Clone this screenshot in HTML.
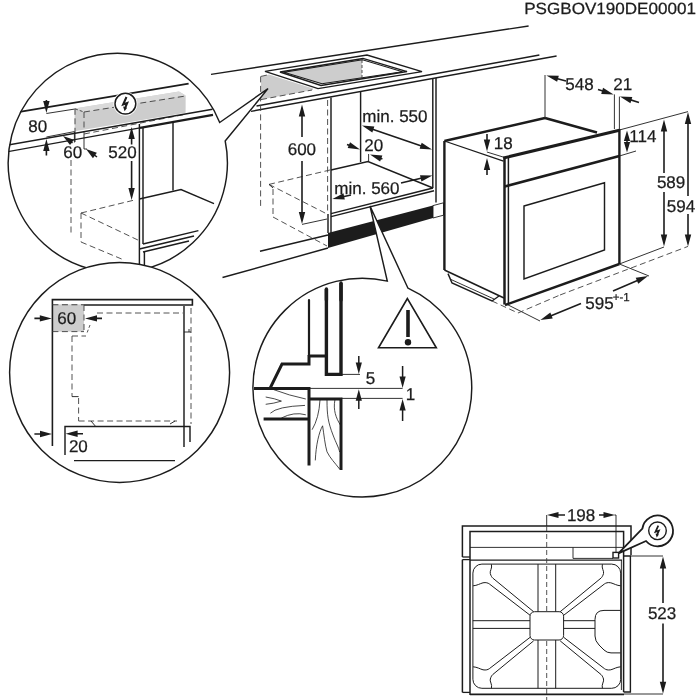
<!DOCTYPE html>
<html><head><meta charset="utf-8"><title>PSGBOV190DE00001</title>
<style>
html,body{margin:0;padding:0;background:#fff;}
body{width:700px;height:700px;overflow:hidden;}
svg{display:block;will-change:transform;}
text{font-family:"Liberation Sans",Arial,Helvetica,sans-serif;fill:#1c1c1c;stroke:#1c1c1c;stroke-width:0.25px;text-rendering:geometricPrecision;}
</style></head><body>
<svg width="700" height="700" viewBox="0 0 700 700">
<rect width="700" height="700" fill="#fff"/>
<defs>
<clipPath id="cA"><circle cx="117.6" cy="162" r="109.6"/></clipPath>
<clipPath id="cB"><circle cx="119.6" cy="372.4" r="110"/></clipPath>
<clipPath id="cC"><circle cx="361.8" cy="387.5" r="109.4"/></clipPath>
</defs>
<text x="524.2" y="14" font-size="16.2" text-anchor="start" textLength="171.8" lengthAdjust="spacingAndGlyphs">PSGBOV190DE00001</text>
<g id="main">
<line x1="211" y1="74.4" x2="528.6" y2="26" stroke="#1c1c1c" stroke-width="1.45" stroke-linecap="butt"/>
<line x1="256.5" y1="106.05" x2="539.4" y2="55" stroke="#1c1c1c" stroke-width="1.45" stroke-linecap="butt"/>
<line x1="251" y1="111.36" x2="556.6" y2="56" stroke="#1c1c1c" stroke-width="1.45" stroke-linecap="butt"/>
<polygon points="261,76.8 269,74.6 313,88.6 313,90 261,99.4" fill="#cdcdcd" stroke="none" stroke-width="0" stroke-linejoin="miter"/>
<line x1="261" y1="76.4" x2="269" y2="74.6" stroke="#404040" stroke-width="0.9" stroke-linecap="butt" stroke-dasharray="6 3.5"/>
<line x1="261" y1="99.6" x2="312" y2="90" stroke="#404040" stroke-width="0.9" stroke-linecap="butt" stroke-dasharray="6 3.5"/>
<line x1="260.6" y1="76.4" x2="260.6" y2="208" stroke="#404040" stroke-width="0.9" stroke-linecap="butt" stroke-dasharray="6 3.5"/>
<polygon points="283,72.6 362,59.6 362,78 321,84" fill="#cdcdcd" stroke="none" stroke-width="0" stroke-linejoin="miter"/>
<polygon points="265,71.4 367,55 422,71.6 318,88.6" fill="none" stroke="#1c1c1c" stroke-width="1.45" stroke-linejoin="miter"/>
<polygon points="280,72 363,58.4 407,71.6 321,85.4" fill="none" stroke="#1c1c1c" stroke-width="1.5" stroke-linejoin="miter"/>
<polygon points="284,72.3 362.5,59.8 402.5,71.8 322,83.8" fill="none" stroke="#1c1c1c" stroke-width="1.1" stroke-linejoin="miter"/>
<line x1="362" y1="60" x2="362" y2="78" stroke="#404040" stroke-width="0.9" stroke-linecap="butt" stroke-dasharray="3 2"/>
<line x1="331" y1="97.4" x2="331" y2="233" stroke="#1c1c1c" stroke-width="1.45" stroke-linecap="butt"/>
<line x1="327.6" y1="100" x2="327.6" y2="214" stroke="#404040" stroke-width="0.9" stroke-linecap="butt" stroke-dasharray="6 3.5"/>
<line x1="360.6" y1="91.5" x2="360.6" y2="162" stroke="#1c1c1c" stroke-width="1.45" stroke-linecap="butt"/>
<line x1="368.6" y1="154" x2="368.6" y2="161.6" stroke="#1c1c1c" stroke-width="0.9" stroke-linecap="butt"/>
<line x1="432.8" y1="78.5" x2="432.8" y2="188" stroke="#1c1c1c" stroke-width="1.45" stroke-linecap="butt"/>
<line x1="436" y1="78" x2="436" y2="202.5" stroke="#1c1c1c" stroke-width="1.45" stroke-linecap="butt"/>
<polyline points="331,170 368,161.6 433,188" fill="none" stroke="#1c1c1c" stroke-width="1.45" stroke-linejoin="miter"/>
<line x1="331" y1="213.6" x2="433" y2="188" stroke="#1c1c1c" stroke-width="1.45" stroke-linecap="butt"/>
<line x1="331" y1="216.6" x2="434" y2="190.8" stroke="#1c1c1c" stroke-width="1.45" stroke-linecap="butt"/>
<line x1="328" y1="214" x2="328" y2="233" stroke="#1c1c1c" stroke-width="1.45" stroke-linecap="butt"/>
<polygon points="328,233 433,205.6 433,218 328,248" fill="#1c1c1c" stroke="none" stroke-width="0" stroke-linejoin="miter"/>
<polygon points="433,205.6 443.5,202.8 443.5,215.2 433,218" fill="#fff" stroke="#1c1c1c" stroke-width="0.9" stroke-linejoin="miter"/>
<line x1="260" y1="251.25" x2="328" y2="235" stroke="#1c1c1c" stroke-width="1.45" stroke-linecap="butt"/>
<line x1="222.5" y1="277.5" x2="328" y2="248" stroke="#1c1c1c" stroke-width="1.45" stroke-linecap="butt"/>
<line x1="269" y1="184.4" x2="330" y2="170" stroke="#404040" stroke-width="0.9" stroke-linecap="butt" stroke-dasharray="6 3.5"/>
<line x1="269" y1="184.4" x2="327" y2="214" stroke="#404040" stroke-width="0.9" stroke-linecap="butt" stroke-dasharray="6 3.5"/>
<line x1="273" y1="189" x2="273" y2="217" stroke="#404040" stroke-width="0.9" stroke-linecap="butt" stroke-dasharray="6 3.5"/>
<line x1="273" y1="217" x2="327" y2="246" stroke="#404040" stroke-width="0.9" stroke-linecap="butt" stroke-dasharray="6 3.5"/>
<line x1="269" y1="184.4" x2="273" y2="188" stroke="#1c1c1c" stroke-width="0.9" stroke-linecap="butt"/>
<polygon points="302,104.4 305.2,116.4 298.8,116.4" fill="#1c1c1c"/>
<line x1="302" y1="112" x2="302" y2="137" stroke="#1c1c1c" stroke-width="1.6" stroke-linecap="butt"/>
<line x1="302" y1="161" x2="302" y2="216" stroke="#1c1c1c" stroke-width="1.6" stroke-linecap="butt"/>
<polygon points="302,224 298.8,212 305.2,212" fill="#1c1c1c"/>
<text x="287.7" y="154.6" font-size="17" text-anchor="start">600</text>
<line x1="302" y1="224.4" x2="327" y2="219" stroke="#1c1c1c" stroke-width="0.9" stroke-linecap="butt"/>
<text x="362.3" y="122" font-size="17" text-anchor="start">min. 550</text>
<line x1="371.08" y1="128.71" x2="422.92" y2="146.49" stroke="#1c1c1c" stroke-width="1.6" stroke-linecap="butt"/>
<polygon points="362,125.6 374.39,126.46 372.31,132.52" fill="#1c1c1c"/>
<polygon points="432,149.6 419.61,148.74 421.69,142.68" fill="#1c1c1c"/>
<text x="364.3" y="151" font-size="17" text-anchor="start">20</text>
<line x1="347" y1="144.4" x2="351.09" y2="146.03" stroke="#1c1c1c" stroke-width="1.6" stroke-linecap="butt"/>
<polygon points="360,149.6 347.67,148.11 350.05,142.17" fill="#1c1c1c"/>
<line x1="382.4" y1="159" x2="379" y2="157.74" stroke="#1c1c1c" stroke-width="1.6" stroke-linecap="butt"/>
<polygon points="370,154.4 382.36,155.57 380.14,161.57" fill="#1c1c1c"/>
<text x="334.3" y="194" font-size="17" text-anchor="start">min. 560</text>
<line x1="351" y1="195" x2="341.79" y2="196.98" stroke="#1c1c1c" stroke-width="1.6" stroke-linecap="butt"/>
<polygon points="332.4,199 343.46,193.35 344.8,199.61" fill="#1c1c1c"/>
<line x1="401" y1="183" x2="423.06" y2="177.8" stroke="#1c1c1c" stroke-width="1.6" stroke-linecap="butt"/>
<polygon points="432.4,175.6 421.45,181.47 419.99,175.24" fill="#1c1c1c"/>
<line x1="444.4" y1="141" x2="444.4" y2="270" stroke="#1c1c1c" stroke-width="2.4" stroke-linecap="butt"/>
<line x1="444.4" y1="270" x2="504" y2="298" stroke="#1c1c1c" stroke-width="1.6" stroke-linecap="butt"/>
<line x1="444.4" y1="141" x2="545" y2="118" stroke="#1c1c1c" stroke-width="2.4" stroke-linecap="butt"/>
<line x1="545" y1="118" x2="597" y2="132.5" stroke="#1c1c1c" stroke-width="2.4" stroke-linecap="butt"/>
<line x1="444.4" y1="141" x2="503.5" y2="161.2" stroke="#1c1c1c" stroke-width="1.3" stroke-linecap="butt"/>
<line x1="503.4" y1="158" x2="619.4" y2="130.2" stroke="#1c1c1c" stroke-width="3" stroke-linecap="butt"/>
<line x1="504.5" y1="157" x2="504.5" y2="304.5" stroke="#1c1c1c" stroke-width="2.5" stroke-linecap="butt"/>
<line x1="508.4" y1="158" x2="508.4" y2="304" stroke="#1c1c1c" stroke-width="1.5" stroke-linecap="butt"/>
<line x1="619.4" y1="129" x2="619.4" y2="264" stroke="#1c1c1c" stroke-width="2.4" stroke-linecap="butt"/>
<line x1="505" y1="305" x2="619.4" y2="264" stroke="#1c1c1c" stroke-width="2.4" stroke-linecap="butt"/>
<line x1="504.6" y1="186.6" x2="619.4" y2="156" stroke="#1c1c1c" stroke-width="2.6" stroke-linecap="butt"/>
<polygon points="524,206 604.5,182.8 604.5,250 524,279" fill="none" stroke="#1c1c1c" stroke-width="1.45" stroke-linejoin="miter"/>
<polyline points="448,273.6 452,283 492,301 499,296" fill="none" stroke="#1c1c1c" stroke-width="1.45" stroke-linejoin="miter"/>
<line x1="451" y1="279.5" x2="494" y2="299" stroke="#1c1c1c" stroke-width="0.9" stroke-linecap="butt"/>
<text x="565.3" y="89.8" font-size="17" text-anchor="start">548</text>
<text x="613.3" y="89.8" font-size="17" text-anchor="start">21</text>
<line x1="545" y1="75" x2="545" y2="118" stroke="#1c1c1c" stroke-width="0.9" stroke-linecap="butt"/>
<line x1="566" y1="81" x2="555.66" y2="78.15" stroke="#1c1c1c" stroke-width="1.6" stroke-linecap="butt"/>
<polygon points="546.4,75.6 558.82,75.7 557.12,81.87" fill="#1c1c1c"/>
<line x1="598" y1="89.6" x2="604.42" y2="91.58" stroke="#1c1c1c" stroke-width="1.6" stroke-linecap="butt"/>
<polygon points="613.6,94.4 601.19,93.93 603.07,87.81" fill="#1c1c1c"/>
<line x1="639" y1="102.4" x2="629.09" y2="99.39" stroke="#1c1c1c" stroke-width="1.6" stroke-linecap="butt"/>
<polygon points="619.9,96.6 632.31,97.02 630.45,103.15" fill="#1c1c1c"/>
<line x1="614.4" y1="94.4" x2="614.4" y2="129" stroke="#1c1c1c" stroke-width="0.9" stroke-linecap="butt"/>
<line x1="619.4" y1="96.6" x2="619.4" y2="129" stroke="#1c1c1c" stroke-width="0.9" stroke-linecap="butt"/>
<text x="493.7" y="149.2" font-size="17" text-anchor="start">18</text>
<line x1="487" y1="134" x2="487" y2="141.9" stroke="#1c1c1c" stroke-width="1.6" stroke-linecap="butt"/>
<polygon points="487,151.5 483.8,139.5 490.2,139.5" fill="#1c1c1c"/>
<line x1="487" y1="175" x2="487" y2="167.6" stroke="#1c1c1c" stroke-width="1.6" stroke-linecap="butt"/>
<polygon points="487,158 490.2,170 483.8,170" fill="#1c1c1c"/>
<line x1="486.9" y1="152" x2="504" y2="157.3" stroke="#1c1c1c" stroke-width="0.9" stroke-linecap="butt"/>
<text x="629.3" y="142.2" font-size="17" text-anchor="start">114</text>
<line x1="627" y1="139" x2="627" y2="144.2" stroke="#1c1c1c" stroke-width="1.5" stroke-linecap="butt"/>
<polygon points="627,130.6 630.1,141.1 623.9,141.1" fill="#1c1c1c"/>
<polygon points="627,152.6 623.9,142.1 630.1,142.1" fill="#1c1c1c"/>
<line x1="619.4" y1="130" x2="688" y2="111.6" stroke="#1c1c1c" stroke-width="0.9" stroke-linecap="butt"/>
<line x1="619.4" y1="156" x2="636" y2="151" stroke="#1c1c1c" stroke-width="0.9" stroke-linecap="butt"/>
<polygon points="664,119.5 667.2,131.5 660.8,131.5" fill="#1c1c1c"/>
<line x1="664" y1="128" x2="664" y2="173" stroke="#1c1c1c" stroke-width="1.6" stroke-linecap="butt"/>
<line x1="664" y1="192" x2="664" y2="238" stroke="#1c1c1c" stroke-width="1.6" stroke-linecap="butt"/>
<polygon points="664,246.4 660.8,234.4 667.2,234.4" fill="#1c1c1c"/>
<text x="656.9" y="188" font-size="17" text-anchor="start">589</text>
<polygon points="688,112 691.2,124 684.8,124" fill="#1c1c1c"/>
<line x1="688" y1="120" x2="688" y2="196" stroke="#1c1c1c" stroke-width="1.6" stroke-linecap="butt"/>
<line x1="688" y1="214" x2="688" y2="238" stroke="#1c1c1c" stroke-width="1.6" stroke-linecap="butt"/>
<polygon points="688,246.4 684.8,234.4 691.2,234.4" fill="#1c1c1c"/>
<text x="666.8" y="212" font-size="17" text-anchor="start">594</text>
<line x1="619.4" y1="264" x2="664" y2="247" stroke="#1c1c1c" stroke-width="0.9" stroke-linecap="butt"/>
<line x1="560" y1="295" x2="688" y2="246.4" stroke="#404040" stroke-width="0.9" stroke-linecap="butt" stroke-dasharray="6 3.5"/>
<line x1="619.4" y1="264" x2="649" y2="276" stroke="#1c1c1c" stroke-width="0.9" stroke-linecap="butt"/>
<text x="585.3" y="309.2" font-size="17" text-anchor="start">595</text>
<text x="612.7" y="301.2" font-size="11.5" text-anchor="start">+-1</text>
<line x1="613" y1="291" x2="639.18" y2="279.78" stroke="#1c1c1c" stroke-width="1.6" stroke-linecap="butt"/>
<polygon points="648,276 638.23,283.67 635.71,277.79" fill="#1c1c1c"/>
<line x1="581" y1="303.6" x2="549.3" y2="316.4" stroke="#1c1c1c" stroke-width="1.6" stroke-linecap="butt"/>
<polygon points="540.4,320 550.33,312.54 552.73,318.47" fill="#1c1c1c"/>
<line x1="507" y1="304.4" x2="540" y2="321" stroke="#1c1c1c" stroke-width="0.9" stroke-linecap="butt"/>
<line x1="492" y1="301" x2="518" y2="313" stroke="#404040" stroke-width="0.9" stroke-linecap="butt" stroke-dasharray="6 3.5"/>
<line x1="518" y1="313" x2="560" y2="295" stroke="#404040" stroke-width="0.9" stroke-linecap="butt" stroke-dasharray="6 3.5"/>
</g>
<path d="M 225.2 141 A 109.6 109.6 0 1 1 219.7 122.5 L 268 88.6 Z" fill="#fff" stroke="#1c1c1c" stroke-width="1.45" />
<g clip-path="url(#cA)">
<line x1="18" y1="112.2" x2="188.6" y2="83.6" stroke="#1c1c1c" stroke-width="1.7" stroke-linecap="butt"/>
<line x1="46.4" y1="113.5" x2="75" y2="109" stroke="#1c1c1c" stroke-width="0.9" stroke-linecap="butt"/>
<polygon points="74.6,108.4 179,91.6 185.6,95.6 185.6,112.8 74.6,131.3" fill="#cdcdcd" stroke="none" stroke-width="0" stroke-linejoin="miter"/>
<polygon points="74.6,108.4 179,91.6 185.6,95.6 84,112.1" fill="#dadada" stroke="none" stroke-width="0" stroke-linejoin="miter"/>
<line x1="75" y1="108.8" x2="84" y2="112" stroke="#404040" stroke-width="0.9" stroke-linecap="butt" stroke-dasharray="3 2"/>
<line x1="84" y1="112" x2="185.6" y2="96" stroke="#404040" stroke-width="0.9" stroke-linecap="butt" stroke-dasharray="6 3.5"/>
<line x1="75" y1="108.8" x2="75" y2="131" stroke="#404040" stroke-width="0.9" stroke-linecap="butt" stroke-dasharray="6 3.5"/>
<line x1="75" y1="131" x2="75" y2="142" stroke="#1c1c1c" stroke-width="0.9" stroke-linecap="butt"/>
<line x1="84" y1="112" x2="84" y2="134" stroke="#404040" stroke-width="0.9" stroke-linecap="butt" stroke-dasharray="6 3.5"/>
<line x1="84" y1="134" x2="84" y2="149" stroke="#1c1c1c" stroke-width="0.9" stroke-linecap="butt"/>
<line x1="84" y1="149" x2="87" y2="149" stroke="#1c1c1c" stroke-width="0.9" stroke-linecap="butt"/>
<line x1="84" y1="134" x2="184" y2="114.6" stroke="#404040" stroke-width="0.9" stroke-linecap="butt" stroke-dasharray="6 3.5"/>
<circle cx="125.4" cy="103.7" r="12" fill="#fff"/>
<circle cx="125.4" cy="103.7" r="10.4" fill="#fff" stroke="#1c1c1c" stroke-width="1.5"/>
<polyline points="126.48,96.98 123.12,104.54 127.2,103.1 125.04,108.02" fill="none" stroke="#1c1c1c" stroke-width="2.04" stroke-linejoin="miter"/>
<polygon points="124.56,111.26 123.12,106.58 127.2,107.66" fill="#1c1c1c"/>
<line x1="5" y1="145.5" x2="212.5" y2="109.3" stroke="#1c1c1c" stroke-width="1.5" stroke-linecap="butt"/>
<line x1="5" y1="152.2" x2="140" y2="127.9" stroke="#1c1c1c" stroke-width="1.4" stroke-linecap="butt"/>
<line x1="140" y1="127.9" x2="213" y2="114.9" stroke="#1c1c1c" stroke-width="2.2" stroke-linecap="butt"/>
<text x="28.3" y="131.8" font-size="17" text-anchor="start">80</text>
<line x1="46.4" y1="100" x2="46.4" y2="103.4" stroke="#1c1c1c" stroke-width="1.6" stroke-linecap="butt"/>
<polygon points="46.4,113 43.2,101 49.6,101" fill="#1c1c1c"/>
<line x1="46.4" y1="155.6" x2="46.4" y2="148.6" stroke="#1c1c1c" stroke-width="1.6" stroke-linecap="butt"/>
<polygon points="46.4,139 49.6,151 43.2,151" fill="#1c1c1c"/>
<line x1="46.4" y1="137" x2="74.4" y2="131.6" stroke="#1c1c1c" stroke-width="0.9" stroke-linecap="butt"/>
<line x1="74.4" y1="131.6" x2="74.4" y2="142.5" stroke="#1c1c1c" stroke-width="0.9" stroke-linecap="butt"/>
<text x="63.3" y="158" font-size="17" text-anchor="start">60</text>
<line x1="72.5" y1="142.8" x2="70.16" y2="141.12" stroke="#1c1c1c" stroke-width="1.5" stroke-linecap="butt"/>
<polygon points="63,136 73.87,139.72 70.02,145.09" fill="#1c1c1c"/>
<line x1="97" y1="157" x2="93.12" y2="154.18" stroke="#1c1c1c" stroke-width="1.5" stroke-linecap="butt"/>
<polygon points="86,149 96.84,152.8 92.96,158.14" fill="#1c1c1c"/>
<text x="108.3" y="158" font-size="17" text-anchor="start">520</text>
<polygon points="131.6,127 134.8,139 128.4,139" fill="#1c1c1c"/>
<line x1="131.6" y1="135" x2="131.6" y2="144.5" stroke="#1c1c1c" stroke-width="1.6" stroke-linecap="butt"/>
<line x1="131.6" y1="161" x2="131.6" y2="192" stroke="#1c1c1c" stroke-width="1.6" stroke-linecap="butt"/>
<polygon points="131.6,200 128.4,188 134.8,188" fill="#1c1c1c"/>
<line x1="139.4" y1="124" x2="139.4" y2="265" stroke="#1c1c1c" stroke-width="1.45" stroke-linecap="butt"/>
<line x1="143" y1="127" x2="143" y2="244" stroke="#1c1c1c" stroke-width="1.45" stroke-linecap="butt"/>
<line x1="173" y1="121" x2="173" y2="190.5" stroke="#1c1c1c" stroke-width="1.45" stroke-linecap="butt"/>
<polyline points="139.4,199 181,189.6 214,203.6" fill="none" stroke="#1c1c1c" stroke-width="1.45" stroke-linejoin="miter"/>
<line x1="143" y1="244" x2="198.4" y2="230.6" stroke="#1c1c1c" stroke-width="1.45" stroke-linecap="butt"/>
<line x1="139.4" y1="249" x2="194" y2="236" stroke="#1c1c1c" stroke-width="1.45" stroke-linecap="butt"/>
<line x1="143" y1="252" x2="189" y2="241" stroke="#1c1c1c" stroke-width="1.45" stroke-linecap="butt"/>
<line x1="144.4" y1="252" x2="144.4" y2="265" stroke="#1c1c1c" stroke-width="1.45" stroke-linecap="butt"/>
<line x1="71" y1="160" x2="71" y2="236" stroke="#404040" stroke-width="0.9" stroke-linecap="butt" stroke-dasharray="6 3.5"/>
<line x1="81" y1="213" x2="133" y2="200.4" stroke="#404040" stroke-width="0.9" stroke-linecap="butt" stroke-dasharray="6 3.5"/>
<line x1="81" y1="213" x2="81" y2="242" stroke="#404040" stroke-width="0.9" stroke-linecap="butt" stroke-dasharray="6 3.5"/>
<line x1="81" y1="213" x2="140" y2="241" stroke="#404040" stroke-width="0.9" stroke-linecap="butt" stroke-dasharray="6 3.5"/>
<line x1="81" y1="242" x2="124" y2="260" stroke="#404040" stroke-width="0.9" stroke-linecap="butt" stroke-dasharray="6 3.5"/>
</g>
<circle cx="119.6" cy="372.4" r="110" fill="#fff" stroke="#1c1c1c" stroke-width="1.45"/>
<g clip-path="url(#cB)">
<rect x="52.4" y="304.4" width="31.6" height="27.2" fill="#cdcdcd"/>
<polyline points="52.4,446 52.4,299.6 192.4,299.6 192.4,305 84,305" fill="none" stroke="#1c1c1c" stroke-width="1.6" stroke-linejoin="miter"/>
<line x1="52.4" y1="304.8" x2="84" y2="304.8" stroke="#404040" stroke-width="1.1" stroke-linecap="butt" stroke-dasharray="6 3.5"/>
<line x1="84" y1="305" x2="84" y2="331.6" stroke="#404040" stroke-width="0.9" stroke-linecap="butt" stroke-dasharray="6 3.5"/>
<line x1="52.4" y1="331.6" x2="84" y2="331.6" stroke="#404040" stroke-width="0.9" stroke-linecap="butt" stroke-dasharray="6 3.5"/>
<text x="57.3" y="323.8" font-size="17" text-anchor="start">60</text>
<line x1="34.4" y1="318.4" x2="42.2" y2="318.4" stroke="#1c1c1c" stroke-width="1.6" stroke-linecap="butt"/>
<polygon points="51.8,318.4 39.8,321.6 39.8,315.2" fill="#1c1c1c"/>
<line x1="102" y1="318.4" x2="94.6" y2="318.4" stroke="#1c1c1c" stroke-width="1.6" stroke-linecap="butt"/>
<polygon points="85,318.4 97,315.2 97,321.6" fill="#1c1c1c"/>
<line x1="97" y1="313" x2="183" y2="313" stroke="#404040" stroke-width="0.9" stroke-linecap="butt" stroke-dasharray="6 3.5"/>
<line x1="90" y1="325" x2="87" y2="333" stroke="#404040" stroke-width="0.9" stroke-linecap="butt" stroke-dasharray="3 2"/>
<line x1="72" y1="336" x2="86" y2="336" stroke="#404040" stroke-width="0.9" stroke-linecap="butt" stroke-dasharray="6 3.5"/>
<line x1="72" y1="336" x2="72" y2="396.6" stroke="#404040" stroke-width="0.9" stroke-linecap="butt" stroke-dasharray="6 3.5"/>
<line x1="72" y1="396.6" x2="78.6" y2="396.6" stroke="#1c1c1c" stroke-width="0.9" stroke-linecap="butt"/>
<line x1="78.6" y1="398" x2="78.6" y2="421" stroke="#404040" stroke-width="0.9" stroke-linecap="butt" stroke-dasharray="6 3.5"/>
<line x1="78.6" y1="421" x2="177" y2="421" stroke="#404040" stroke-width="0.9" stroke-linecap="butt" stroke-dasharray="6 3.5"/>
<line x1="184" y1="306" x2="184" y2="447" stroke="#1c1c1c" stroke-width="1.45" stroke-linecap="butt"/>
<line x1="191" y1="308" x2="191" y2="424" stroke="#404040" stroke-width="0.9" stroke-linecap="butt" stroke-dasharray="6 3.5"/>
<line x1="184" y1="332" x2="191" y2="332" stroke="#1c1c1c" stroke-width="0.9" stroke-linecap="butt"/>
<line x1="189" y1="329" x2="189" y2="332" stroke="#1c1c1c" stroke-width="0.9" stroke-linecap="butt"/>
<polyline points="65,455 65,426.4 190,426.4 190,442" fill="none" stroke="#1c1c1c" stroke-width="1.45" stroke-linejoin="miter"/>
<line x1="34.4" y1="434" x2="42.4" y2="434" stroke="#1c1c1c" stroke-width="1.6" stroke-linecap="butt"/>
<polygon points="52,434 40,437.2 40,430.8" fill="#1c1c1c"/>
<line x1="83" y1="433.8" x2="75.2" y2="433.8" stroke="#1c1c1c" stroke-width="1.6" stroke-linecap="butt"/>
<polygon points="65.6,433.8 77.6,430.6 77.6,437" fill="#1c1c1c"/>
<text x="68.9" y="451.8" font-size="17" text-anchor="start">20</text>
<line x1="74" y1="460.6" x2="175" y2="460.6" stroke="#1c1c1c" stroke-width="1.45" stroke-linecap="butt"/>
<line x1="91" y1="421" x2="95.6" y2="426.4" stroke="#1c1c1c" stroke-width="0.9" stroke-linecap="butt"/>
<line x1="170" y1="424" x2="175" y2="421" stroke="#1c1c1c" stroke-width="0.9" stroke-linecap="butt"/>
</g>
<path d="M 408 288.2 A 109.4 109.4 0 1 1 387.3 281.1 L 370 206 Z" fill="#fff" stroke="#1c1c1c" stroke-width="1.45" />
<g clip-path="url(#cC)">
<line x1="309" y1="300" x2="309" y2="356" stroke="#1c1c1c" stroke-width="2.2" stroke-linecap="round"/>
<polyline points="326.4,289 326.4,374.4 341,374.4 341,283" fill="none" stroke="#1c1c1c" stroke-width="3.4" stroke-linejoin="miter"/>
<line x1="326.4" y1="289" x2="326.4" y2="300" stroke="#1c1c1c" stroke-width="3.4" stroke-linecap="round"/>
<line x1="341" y1="283" x2="341" y2="300" stroke="#1c1c1c" stroke-width="3.4" stroke-linecap="round"/>
<line x1="309" y1="356" x2="326.4" y2="356" stroke="#1c1c1c" stroke-width="3.2" stroke-linecap="butt"/>
<polyline points="309,355 309,364 282,364 270,388.4" fill="none" stroke="#1c1c1c" stroke-width="3" stroke-linejoin="miter"/>
<polyline points="254,388.4 309,388.4 309,465.6" fill="none" stroke="#1c1c1c" stroke-width="3" stroke-linejoin="miter"/>
<polyline points="309,399 341,399 341,470" fill="none" stroke="#1c1c1c" stroke-width="3" stroke-linejoin="miter"/>
<line x1="263.6" y1="419" x2="309" y2="419" stroke="#1c1c1c" stroke-width="3" stroke-linecap="butt"/>
<line x1="309" y1="388.4" x2="402.6" y2="388.4" stroke="#1c1c1c" stroke-width="0.9" stroke-linecap="butt"/>
<line x1="341" y1="398.4" x2="402.6" y2="398.4" stroke="#1c1c1c" stroke-width="0.9" stroke-linecap="butt"/>
<line x1="341" y1="374.4" x2="360" y2="374.4" stroke="#1c1c1c" stroke-width="0.9" stroke-linecap="butt"/>
<line x1="358.8" y1="356" x2="358.8" y2="364.8" stroke="#1c1c1c" stroke-width="1.5" stroke-linecap="butt"/>
<polygon points="358.8,374 355.7,362.5 361.9,362.5" fill="#1c1c1c"/>
<line x1="358.8" y1="409" x2="358.8" y2="398.4" stroke="#1c1c1c" stroke-width="1.5" stroke-linecap="butt"/>
<polygon points="358.8,389.2 361.9,400.7 355.7,400.7" fill="#1c1c1c"/>
<line x1="402.6" y1="366" x2="402.6" y2="378.8" stroke="#1c1c1c" stroke-width="1.5" stroke-linecap="butt"/>
<polygon points="402.6,388 399.5,376.5 405.7,376.5" fill="#1c1c1c"/>
<line x1="402.6" y1="421" x2="402.6" y2="408.2" stroke="#1c1c1c" stroke-width="1.5" stroke-linecap="butt"/>
<polygon points="402.6,399 405.7,410.5 399.5,410.5" fill="#1c1c1c"/>
<text x="365.8" y="383.8" font-size="17" text-anchor="start">5</text>
<text x="405.8" y="400" font-size="17" text-anchor="start">1</text>
<polygon points="407.4,298.5 378.5,347.8 436.3,347.8" fill="none" stroke="#1c1c1c" stroke-width="1.6" stroke-linejoin="miter"/>
<line x1="408" y1="310" x2="408" y2="337" stroke="#1c1c1c" stroke-width="3.6" stroke-linecap="butt"/>
<circle cx="408" cy="342.2" r="3.2" fill="#1c1c1c"/>
<path d="M273.6 389.6 Q289 395.5 305.8 399 M265.7 397 Q275 398.5 281.4 401.1 Q274 403.5 265.7 404.3 M270.4 413.2 Q277 406.5 305 405.4 M281.4 418 Q294 411.5 305.8 414.8" fill="none" stroke="#1c1c1c" stroke-width="0.8" />
<path d="M320 400 Q319 418 312.1 429.7 M327 400 C327 415 328 422 333 435 C336 443 339 448 339.6 452 M334.9 400 C333 410 336 418 340.4 425 M315.3 460.4 C316 445 319 432 322.6 425.8 C324 435 325 445 327 451.8 C330 458 335 463 339.6 469" fill="none" stroke="#1c1c1c" stroke-width="0.8" />
</g>
<g id="top">
<polyline points="462.4,557 462.4,526 631,526 631,555" fill="none" stroke="#1c1c1c" stroke-width="1.5" stroke-linejoin="miter"/>
<line x1="462.4" y1="557" x2="470" y2="557" stroke="#1c1c1c" stroke-width="1.3" stroke-linecap="butt"/>
<line x1="462.4" y1="559.6" x2="470" y2="559.6" stroke="#1c1c1c" stroke-width="1.3" stroke-linecap="butt"/>
<line x1="462.4" y1="559.6" x2="462.4" y2="692.4" stroke="#1c1c1c" stroke-width="1.5" stroke-linecap="butt"/>
<line x1="462.4" y1="692.4" x2="470" y2="692.4" stroke="#1c1c1c" stroke-width="1.3" stroke-linecap="butt"/>
<polyline points="470,695 470,531.4 623.6,531.4 623.6,692" fill="none" stroke="#1c1c1c" stroke-width="1.5" stroke-linejoin="miter"/>
<line x1="470" y1="547.4" x2="623.6" y2="547.4" stroke="#1c1c1c" stroke-width="0.9" stroke-linecap="butt"/>
<line x1="470" y1="560.2" x2="622" y2="560.2" stroke="#1c1c1c" stroke-width="1.3" stroke-linecap="butt"/>
<polyline points="573,547.4 573,558.4 613,558.4" fill="none" stroke="#1c1c1c" stroke-width="0.9" stroke-linejoin="miter"/>
<rect x="613" y="552.4" width="5.6" height="5.6" fill="#fff" stroke="#1c1c1c" stroke-width="1.4"/>
<line x1="470" y1="694.4" x2="624" y2="694.4" stroke="#1c1c1c" stroke-width="1.8" stroke-linecap="butt"/>
<polyline points="623.6,556 630.4,556 630.4,692 623.6,692" fill="none" stroke="#1c1c1c" stroke-width="1.4" stroke-linejoin="miter"/>
<line x1="621.4" y1="560" x2="621.4" y2="690" stroke="#1c1c1c" stroke-width="0.9" stroke-linecap="butt"/>
<line x1="546.7" y1="515" x2="546.7" y2="526" stroke="#1c1c1c" stroke-width="0.9" stroke-linecap="butt"/>
<line x1="546.7" y1="526" x2="546.7" y2="611.7" stroke="#404040" stroke-width="0.9" stroke-linecap="butt" stroke-dasharray="5 3"/>
<line x1="546.7" y1="641" x2="546.7" y2="700" stroke="#404040" stroke-width="0.9" stroke-linecap="butt" stroke-dasharray="5 3"/>
<text x="566.9" y="521" font-size="17" text-anchor="start">198</text>
<line x1="565" y1="515" x2="556.2" y2="515" stroke="#1c1c1c" stroke-width="1.5" stroke-linecap="butt"/>
<polygon points="547,515 558.5,512 558.5,518" fill="#1c1c1c"/>
<line x1="599" y1="515" x2="605.8" y2="515" stroke="#1c1c1c" stroke-width="1.5" stroke-linecap="butt"/>
<polygon points="615,515 603.5,518 603.5,512" fill="#1c1c1c"/>
<line x1="616" y1="515" x2="616" y2="553" stroke="#1c1c1c" stroke-width="0.9" stroke-linecap="butt"/>
<line x1="614.5" y1="515" x2="616" y2="515" stroke="#1c1c1c" stroke-width="0.9" stroke-linecap="butt"/>
<path d="M 618.4 553.4 L 642.4 528.5 A 15.4 15.4 0 1 1 646 541 Z" fill="#fff" stroke="#1c1c1c" stroke-width="1.8" />
<circle cx="657.5" cy="530.8" r="8.8" fill="#fff" stroke="#1c1c1c" stroke-width="1.4"/>
<polyline points="658.3,525.6 655.5,531.9 658.9,530.7 657.1,534.8" fill="none" stroke="#1c1c1c" stroke-width="1.7" stroke-linejoin="miter"/>
<polygon points="656.7,537.5 655.5,533.6 658.9,534.5" fill="#1c1c1c"/>
<line x1="630.4" y1="556" x2="663" y2="556" stroke="#1c1c1c" stroke-width="0.9" stroke-linecap="butt"/>
<line x1="624" y1="694" x2="663" y2="694" stroke="#1c1c1c" stroke-width="0.9" stroke-linecap="butt"/>
<polygon points="663,556.4 666.2,568.4 659.8,568.4" fill="#1c1c1c"/>
<line x1="663" y1="565" x2="663" y2="603" stroke="#1c1c1c" stroke-width="1.6" stroke-linecap="butt"/>
<line x1="663" y1="623.5" x2="663" y2="686" stroke="#1c1c1c" stroke-width="1.6" stroke-linecap="butt"/>
<polygon points="663,693.8 659.8,681.8 666.2,681.8" fill="#1c1c1c"/>
<text x="647.9" y="618.6" font-size="17" text-anchor="start">523</text>
<rect x="472.9" y="564.1" width="147.8" height="124.2" rx="9" ry="9" fill="none" stroke="#1c1c1c" stroke-width="1.0"/>
<rect x="530" y="611.7" width="33.6" height="28.3" rx="4.5" ry="4.5" fill="none" stroke="#1c1c1c" stroke-width="1.0"/>
<line x1="538" y1="564.1" x2="538" y2="611.7" stroke="#1c1c1c" stroke-width="1" stroke-linecap="butt"/>
<line x1="555.7" y1="564.1" x2="555.7" y2="611.7" stroke="#1c1c1c" stroke-width="1" stroke-linecap="butt"/>
<line x1="538" y1="640" x2="538" y2="688.3" stroke="#1c1c1c" stroke-width="1" stroke-linecap="butt"/>
<line x1="555.7" y1="640" x2="555.7" y2="688.3" stroke="#1c1c1c" stroke-width="1" stroke-linecap="butt"/>
<line x1="472.9" y1="620.7" x2="530" y2="620.7" stroke="#1c1c1c" stroke-width="1" stroke-linecap="butt"/>
<line x1="472.9" y1="628.4" x2="530" y2="628.4" stroke="#1c1c1c" stroke-width="1" stroke-linecap="butt"/>
<line x1="563.6" y1="620.7" x2="595" y2="620.7" stroke="#1c1c1c" stroke-width="1" stroke-linecap="butt"/>
<line x1="563.6" y1="628.4" x2="595" y2="628.4" stroke="#1c1c1c" stroke-width="1" stroke-linecap="butt"/>
<path d="M 491.4 564.3 C 492.6 568 489.4 571.4 490.3 573.6 C 491 576 492 577.4 492.8 578.1 L 533.6 611.7" fill="none" stroke="#1c1c1c" stroke-width="1" />
<path d="M 473.1 585.8 C 477 585.6 480 583.6 483 582.8 C 486 582.2 488 583 489.3 583.9 L 530 615.2" fill="none" stroke="#1c1c1c" stroke-width="1" />
<path d="M 491.4 688.3 C 492.6 684.6 489.4 681.2 490.3 679 C 491 676.6 492 675.2 492.8 674.5 L 533.6 640.9" fill="none" stroke="#1c1c1c" stroke-width="1" />
<path d="M 473.1 666.8 C 477 667 480 669 483 669.8 C 486 670.4 488 669.6 489.3 668.7 L 530 637.4" fill="none" stroke="#1c1c1c" stroke-width="1" />
<path d="M 602.4 564.3 C 601.2 568 604.4 571.4 603.5 573.6 C 602.8 576 601.8 577.4 601 578.1 L 560.2 611.7" fill="none" stroke="#1c1c1c" stroke-width="1" />
<path d="M 620.7 585.8 C 616.8 585.6 613.8 583.6 610.8 582.8 C 607.8 582.2 605.8 583 604.5 583.9 L 563.8 615.2" fill="none" stroke="#1c1c1c" stroke-width="1" />
<path d="M 602.4 688.3 C 601.2 684.6 604.4 681.2 603.5 679 C 602.8 676.6 601.8 675.2 601 674.5 L 560.2 640.9" fill="none" stroke="#1c1c1c" stroke-width="1" />
<path d="M 620.7 666.8 C 616.8 667 613.8 669 610.8 669.8 C 607.8 670.4 605.8 669.6 604.5 668.7 L 563.8 637.4" fill="none" stroke="#1c1c1c" stroke-width="1" />
<path d="M620.7 610.4 L604 610.4 Q595 610.4 595 619.4 L595 636 Q595 641 599 645 L604 650 Q607 652.9 611 652.9 L620.7 652.9" fill="none" stroke="#1c1c1c" stroke-width="1" />
</g>
</svg>
</body></html>
